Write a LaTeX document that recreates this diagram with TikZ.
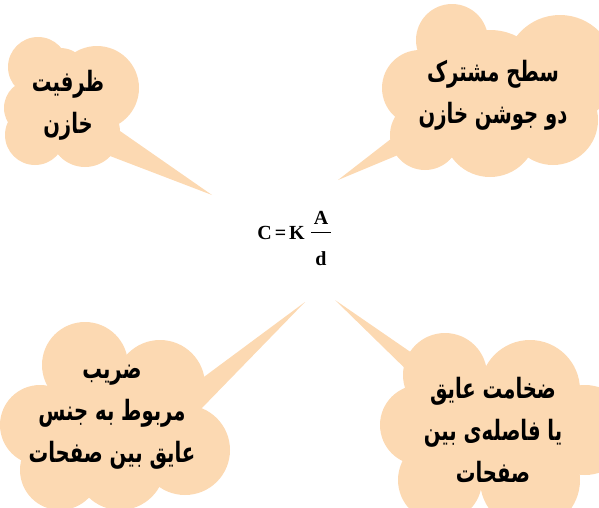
\documentclass[tikz,border=0pt]{standalone}
\usepackage{fontspec}
\setmainfont{Liberation Serif}
\newfontfamily\arabicfont[Script=Arabic,FakeStretch=0.7]{DejaVu Sans}
\TeXXeTstate=1
\definecolor{cloudfill}{RGB}{252,217,178}
\tikzset{
  puff/.style={fill=cloudfill, draw=none},
  ptext/.style={font=\arabicfont\bfseries\fontsize{28}{42}\selectfont, align=center, text=black, inner sep=0pt},
  formula/.style={font=\bfseries\fontsize{20}{22}\selectfont, inner sep=0pt, anchor=base}
}
\begin{document}
\begin{tikzpicture}[x=1pt,y=-1pt]
\useasboundingbox (0,0) rectangle (599,507);
\clip (0,0) rectangle (599,507);
% cloud 1 (top-left)
\fill[puff] (120,131) -- (212,195) -- (110,156) -- cycle;
\foreach \cx/\cy/\r in {38/67/30, 97/88/42, 32/108/28, 35/135/30, 85/132/35, 70/100/45, 60/78/30}
  \fill[puff] (\cx,\cy) circle (\r);
% cloud 2 (top-right)
\fill[puff] (405,128) -- (338,180) -- (410,150) -- cycle;
\foreach \cx/\cy/\r in {452/40/36, 560/70/55, 420/88/38, 425/135/35, 490/130/47, 553/120/45, 490/90/60}
  \fill[puff] (\cx,\cy) circle (\r);
% cloud 3 (bottom-left)
\fill[puff] (305,302) -- (185,391) -- (200,410) -- cycle;
\foreach \cx/\cy/\r in {85/365/43, 160/385/45, 40/425/40, 185/450/45, 60/470/40, 120/465/45, 115/420/58}
  \fill[puff] (\cx,\cy) circle (\r);
% cloud 4 (bottom-right)
\fill[puff] (335,300) -- (425,362) -- (420,383) -- cycle;
\foreach \cx/\cy/\r in {445/375/42, 530/390/50, 585/430/45, 420/425/40, 440/480/42, 530/480/50, 495/430/58}
  \fill[puff] (\cx,\cy) circle (\r);
% texts
\node[ptext] (t1) at (68,105) {\beginR ظرفیت\endR\\\beginR خازن\endR};
\node[ptext] (t2) at (493,95) {\beginR سطح مشترک\endR\\\beginR دو جوشن خازن\endR};
\node[ptext] (t3) at (112,417) {\beginR ضریب\endR\\\beginR مربوط به جنس\endR\\\beginR عایق بین صفحات\endR};
\node[ptext] (t4) at (493,430) {\beginR ضخامت عایق\endR\\\beginR یا فاصله‌ی بین\endR\\\beginR صفحات\endR};
% formula
\node[formula, anchor=base east] (ck) at (305,239) {C\hspace{3pt}=\hspace{3pt}K};
\node[formula] (fa) at (321,224) {A};
\node[formula] (fd) at (321,265) {d};
\draw[line width=1pt] (311,232) -- (331,232);
\end{tikzpicture}
\end{document}
